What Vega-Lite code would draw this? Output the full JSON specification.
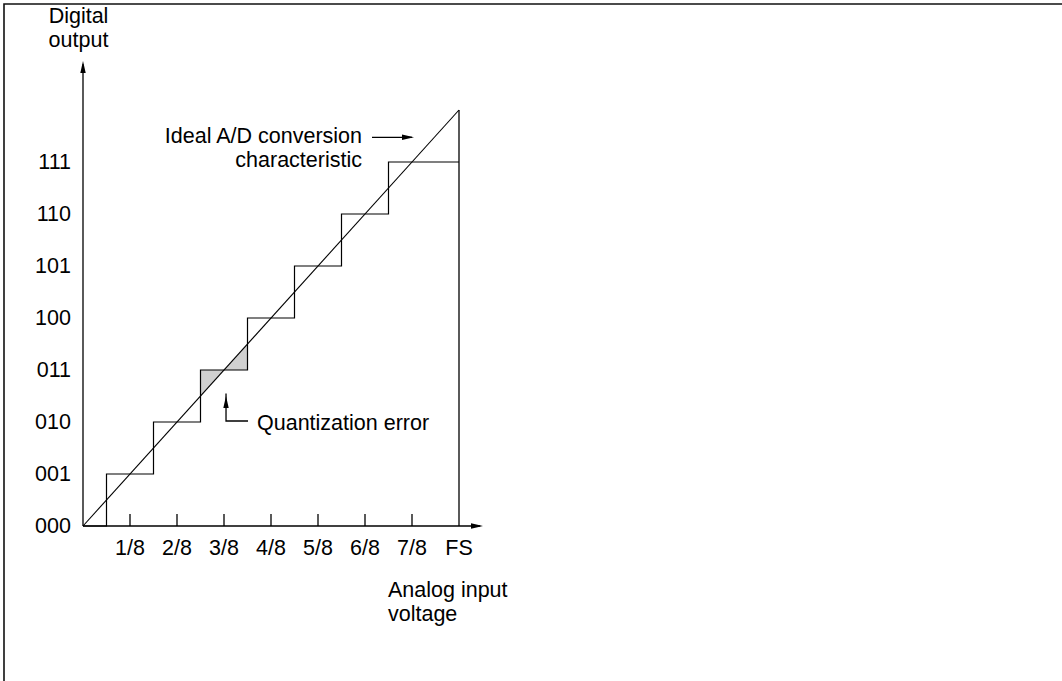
{
  "$schema": "https://vega.github.io/schema/vega-lite/v6.json",
  "width": 1070,
  "height": 690,
  "autosize": {"type": "none"},
  "padding": {"left": 4, "top": 4, "right": 0, "bottom": 0},
  "background": "white",
  "config": {
    "view": {"stroke": "#111111", "strokeWidth": 1.6},
    "text": {"font": "Liberation Sans", "fontSize": 21.5, "color": "black"}
  },
  "datasets": {
    "shade": [
      {"x": 2.5, "y": 3, "y2": 2.5},
      {"x": 3, "y": 3, "y2": 3},
      {"x": 3.5, "y": 3, "y2": 3.5}
    ],
    "stairs": [
      {"x": 0, "y": 0, "o": 0},
      {"x": 0.5, "y": 0, "o": 1},
      {"x": 0.5, "y": 1, "o": 2},
      {"x": 1.5, "y": 1, "o": 3},
      {"x": 1.5, "y": 2, "o": 4},
      {"x": 2.5, "y": 2, "o": 5},
      {"x": 2.5, "y": 3, "o": 6},
      {"x": 3.5, "y": 3, "o": 7},
      {"x": 3.5, "y": 4, "o": 8},
      {"x": 4.5, "y": 4, "o": 9},
      {"x": 4.5, "y": 5, "o": 10},
      {"x": 5.5, "y": 5, "o": 11},
      {"x": 5.5, "y": 6, "o": 12},
      {"x": 6.5, "y": 6, "o": 13},
      {"x": 6.5, "y": 7, "o": 14},
      {"x": 8, "y": 7, "o": 15}
    ],
    "ideal": [
      {"x": 0, "y": 0, "o": 0},
      {"x": 8, "y": 8, "o": 1}
    ],
    "rules": [
      {"x": 0, "x2": 8.45, "y": 0, "y2": 0},
      {"x": 0, "x2": 0, "y": 0, "y2": 8.88},
      {"x": 8, "x2": 8, "y": 0, "y2": 8},
      {"x": 1, "x2": 1, "y": 0, "y2": 0.23},
      {"x": 2, "x2": 2, "y": 0, "y2": 0.23},
      {"x": 3, "x2": 3, "y": 0, "y2": 0.23},
      {"x": 4, "x2": 4, "y": 0, "y2": 0.23},
      {"x": 5, "x2": 5, "y": 0, "y2": 0.23},
      {"x": 6, "x2": 6, "y": 0, "y2": 0.23},
      {"x": 7, "x2": 7, "y": 0, "y2": 0.23}
    ],
    "leaders": [
      {"id": "ideal", "o": 1, "x": 6.149, "y": 7.475},
      {"id": "ideal", "o": 2, "x": 7.0, "y": 7.475},
      {"id": "quant", "o": 1, "x": 3.511, "y": 2.019},
      {"id": "quant", "o": 2, "x": 3.043, "y": 2.019},
      {"id": "quant", "o": 3, "x": 3.043, "y": 2.55}
    ],
    "arrows": [
      {"x": 8.51, "y": 0, "dir": "right"},
      {"x": 0, "y": 8.942, "dir": "up"},
      {"x": 7.043, "y": 7.475, "dir": "right"},
      {"x": 3.043, "y": 2.5, "dir": "up"}
    ],
    "ylabels": [
      {"label": "000", "x": 0, "y": 0},
      {"label": "001", "x": 0, "y": 1},
      {"label": "010", "x": 0, "y": 2},
      {"label": "011", "x": 0, "y": 3},
      {"label": "100", "x": 0, "y": 4},
      {"label": "101", "x": 0, "y": 5},
      {"label": "110", "x": 0, "y": 6},
      {"label": "111", "x": 0, "y": 7}
    ],
    "xlabels": [
      {"label": "1/8", "x": 1, "y": 0},
      {"label": "2/8", "x": 2, "y": 0},
      {"label": "3/8", "x": 3, "y": 0},
      {"label": "4/8", "x": 4, "y": 0},
      {"label": "5/8", "x": 5, "y": 0},
      {"label": "6/8", "x": 6, "y": 0},
      {"label": "7/8", "x": 7, "y": 0},
      {"label": "FS", "x": 8, "y": 0}
    ]
  },
  "encoding": {
    "x": {"field": "x", "type": "quantitative", "scale": {"domain": [-1.68085, 21.08511], "nice": false, "zero": false}, "axis": null},
    "y": {"field": "y", "type": "quantitative", "scale": {"domain": [-3.23077, 10.03846], "nice": false, "zero": false}, "axis": null}
  },
  "layer": [
    {
      "data": {"name": "shade"},
      "mark": {"type": "area", "color": "#d0d0d0", "orient": "vertical"},
      "encoding": {"y2": {"field": "y2"}}
    },
    {
      "data": {"name": "stairs"},
      "mark": {"type": "line", "color": "black", "strokeWidth": 1.2},
      "encoding": {"order": {"field": "o", "type": "quantitative"}}
    },
    {
      "data": {"name": "ideal"},
      "mark": {"type": "line", "color": "black", "strokeWidth": 1.1},
      "encoding": {"order": {"field": "o", "type": "quantitative"}}
    },
    {
      "data": {"name": "rules"},
      "mark": {"type": "rule", "color": "black", "strokeWidth": 1.3},
      "encoding": {"x2": {"field": "x2"}, "y2": {"field": "y2"}}
    },
    {
      "data": {"name": "leaders"},
      "mark": {"type": "line", "color": "black", "strokeWidth": 1.3},
      "encoding": {"detail": {"field": "id"}, "order": {"field": "o", "type": "quantitative"}}
    },
    {
      "data": {"name": "arrows"},
      "mark": {"type": "point", "filled": true, "color": "black", "size": 144, "opacity": 1},
      "encoding": {
        "shape": {"field": "dir", "type": "nominal", "scale": {"domain": ["right", "up"], "range": ["M0,0L-2,-0.45L-2,0.45Z", "M0,0L-0.45,2L0.45,2Z"]}, "legend": null}
      }
    },
    {
      "data": {"name": "ylabels"},
      "mark": {"type": "text", "align": "right", "baseline": "middle", "dx": -12, "dy": 1},
      "encoding": {"text": {"field": "label", "type": "nominal"}}
    },
    {
      "data": {"name": "xlabels"},
      "mark": {"type": "text", "align": "center", "baseline": "alphabetic", "dy": 29},
      "encoding": {"text": {"field": "label", "type": "nominal"}}
    },
    {
      "data": {"values": [{"note": "Digital\noutput", "x": -0.0957, "y": 9.673}]},
      "mark": {"type": "text", "align": "center", "baseline": "alphabetic", "lineBreak": "\n", "lineHeight": 24},
      "encoding": {"text": {"field": "note"}}
    },
    {
      "data": {"values": [{"note": "Ideal A/D conversion\ncharacteristic", "x": 5.936, "y": 7.36}]},
      "mark": {"type": "text", "align": "right", "baseline": "alphabetic", "lineBreak": "\n", "lineHeight": 24},
      "encoding": {"text": {"field": "note"}}
    },
    {
      "data": {"values": [
        {"note": "Quantization error", "x": 3.702, "y": 1.837},
        {"note": "Analog input\nvoltage", "x": 6.489, "y": -1.36}
      ]},
      "mark": {"type": "text", "align": "left", "baseline": "alphabetic", "lineBreak": "\n", "lineHeight": 24},
      "encoding": {"text": {"field": "note"}}
    }
  ]
}
